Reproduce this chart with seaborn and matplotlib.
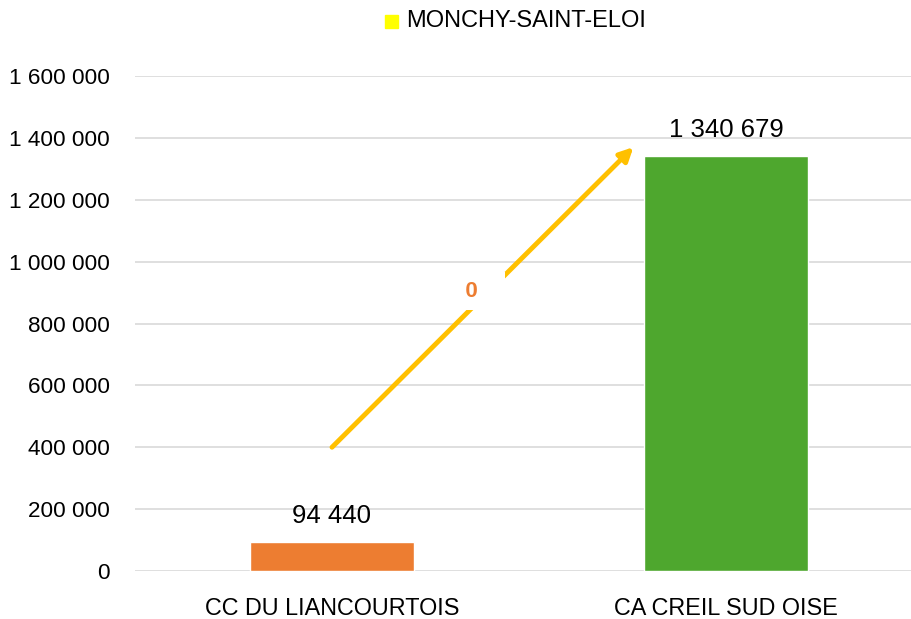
import pandas as pd
import matplotlib.pyplot as plt
import seaborn as sns

categories = ["CC DU LIANCOURTOIS", "CA CREIL SUD OISE"]
values = [94440, 1340679]
bar_colors = ["#ED7D31", "#4EA72E"]
series_name = "MONCHY-SAINT-ELOI"
arrow_label = "0"
yticks = [0, 200000, 400000, 600000, 800000, 1000000, 1200000, 1400000, 1600000]

def fmt(v):
    return f"{v:,}".replace(",", " ")

sns.set_style("white")
plt.rcParams["font.family"] = ["Liberation Sans", "DejaVu Sans"]
plt.rcParams["text.color"] = "black"
plt.rcParams["xtick.color"] = "black"
plt.rcParams["ytick.color"] = "black"

df = pd.DataFrame({"cat": categories, "val": values})

fig = plt.figure(figsize=(9.11, 6.19), dpi=100)
ax = fig.add_axes([135 / 911, 1 - 571 / 619, (911 - 135) / 911, (571 - 76) / 619])
sns.barplot(data=df, x="cat", y="val", hue="cat", palette=bar_colors,
            saturation=1, width=0.416, legend=False, ax=ax, zorder=3)

ax.set_xlim(-0.5, -0.5 + 776 / 394)
ax.set_ylim(0, 1600000)
ax.set_yticks(yticks)
ax.set_yticklabels([fmt(v) for v in yticks], fontsize=16.2)
ax.tick_params(axis="x", labelsize=16.8, pad=19, length=0)
ax.tick_params(axis="y", length=0, pad=18)
ax.grid(axis="y", color="#D9D9D9", linewidth=1.2, zorder=0)
ax.set_axisbelow(True)
sns.despine(ax=ax, left=True, right=True, top=True, bottom=True)
ax.set_xlabel("")
ax.set_ylabel("")

for i, v in enumerate(values):
    ax.text(i, v + 45000, fmt(v), ha="center", va="bottom", fontsize=18.5, color="black")

# arrow between the bars
ax.annotate("", xy=(0.765, 1370000), xytext=(0.0, 400000),
            arrowprops=dict(arrowstyle="-|>,head_length=0.8,head_width=0.4",
                            color="#FFC000", lw=3.5, shrinkA=0, shrinkB=0),
            zorder=4)
ax.text(0.353, 905000, f"   {arrow_label}   ", ha="center", va="center", fontsize=16,
        fontweight="bold", color="#ED7D31", zorder=5,
        bbox=dict(boxstyle="square,pad=0.4", facecolor="white", edgecolor="none"))

# legend
fig.patches.append(plt.Rectangle((385 / 911, 1 - 28 / 619), 13 / 911, 13 / 619,
                                 transform=fig.transFigure, color="#FFFF00"))
fig.text(406 / 911, 1 - 21 / 619, series_name, ha="left", va="center", fontsize=17)

fig.savefig("out.png", dpi=100)
